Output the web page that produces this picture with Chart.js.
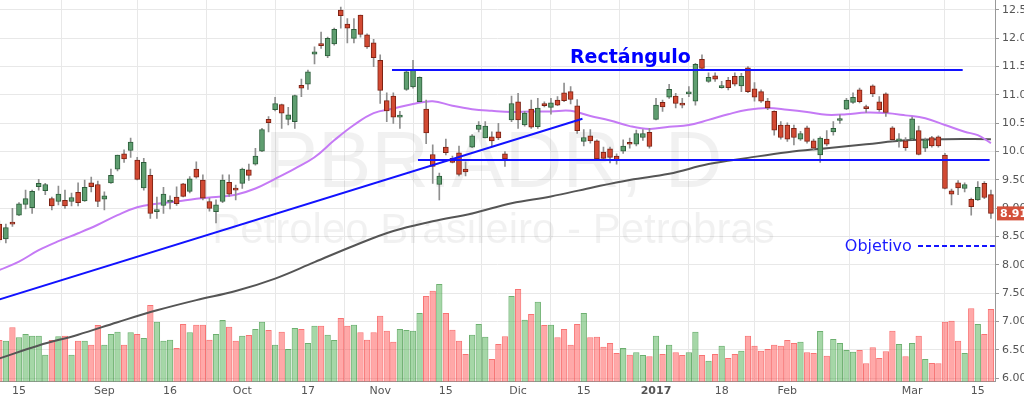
<!DOCTYPE html>
<html>
<head>
<meta charset="utf-8">
<style>
  html, body { margin: 0; padding: 0; background: #fff; }
</style>
<script src="https://cdn.jsdelivr.net/npm/chart.js@4.4.1/dist/chart.umd.min.js"></script>
</head>
<body>
<canvas id="chart" width="1024" height="397"></canvas>
<script>
// PBR.ADR daily candles, one entry per trading day (index 0 = Aug 10 2016, 151 = Mar 17 2017)
const open = [
  8.72, 8.46, 8.75, 8.88, 9.07, 9.01, 9.38, 9.31, 9.17, 9.12,
  9.14, 9.12, 9.28, 9.13, 9.45, 9.42, 9.16, 9.45, 9.69, 9.96,
  10.02, 9.85, 9.36, 9.58, 8.94, 9.05, 9.11, 9.20, 9.43, 9.30,
  9.69, 9.50, 9.12, 8.94, 9.12, 9.46, 9.34, 9.44, 9.68, 9.78,
  10.01, 10.57, 10.74, 10.83, 10.57, 10.53, 11.17, 11.19, 11.72, 11.89,
  11.69, 11.90, 12.50, 12.25, 12.00, 12.41, 12.06, 11.92, 11.61, 10.90,
  10.98, 10.61, 11.10, 11.14, 10.88, 10.75, 9.95, 9.42, 10.08, 9.88,
  9.98, 9.69, 10.08, 10.39, 10.24, 10.26, 10.35, 9.96, 10.56, 10.88,
  10.47, 10.75, 10.44, 10.85, 10.78, 10.91, 11.04, 11.06, 10.81, 10.18,
  10.28, 10.19, 9.99, 10.05, 9.92, 10.01, 10.16, 10.13, 10.25, 10.34,
  10.57, 10.87, 10.96, 10.98, 10.84, 11.02, 10.89, 11.63, 11.24, 11.34,
  11.13, 11.26, 11.33, 11.16, 11.48, 11.11, 11.06, 10.89, 10.71, 10.47,
  10.47, 10.41, 10.22, 10.42, 10.19, 9.94, 10.22, 10.35, 10.55, 10.75,
  10.87, 11.09, 10.79, 11.16, 10.88, 11.02, 10.42, 10.19, 10.19, 10.22,
  10.37, 10.06, 10.25, 10.26, 9.94, 9.31, 9.45, 9.35, 9.16, 9.15,
  9.44, 9.24
];
const high = [
  8.78, 8.72, 9.00, 9.10, 9.32, 9.32, 9.51, 9.44, 9.20, 9.39,
  9.32, 9.27, 9.45, 9.50, 9.55, 9.48, 9.29, 9.69, 9.94, 10.03,
  10.24, 9.90, 9.88, 9.69, 9.20, 9.37, 9.22, 9.38, 9.44, 9.56,
  9.82, 9.59, 9.18, 9.15, 9.59, 9.59, 9.41, 9.71, 9.78, 10.06,
  10.41, 10.62, 10.96, 10.84, 10.78, 11.00, 11.28, 11.44, 11.85, 12.11,
  12.02, 12.18, 12.55, 12.35, 12.35, 12.41, 12.08, 11.98, 11.71, 11.04,
  11.04, 10.71, 11.45, 11.61, 11.32, 10.91, 10.12, 9.62, 10.22, 9.92,
  10.10, 9.82, 10.30, 10.53, 10.53, 10.35, 10.50, 10.00, 10.98, 11.03,
  10.71, 10.91, 10.94, 10.88, 10.94, 10.97, 11.21, 11.15, 10.92, 10.39,
  10.39, 10.21, 10.08, 10.08, 9.96, 10.21, 10.24, 10.38, 10.39, 10.41,
  10.94, 10.91, 11.19, 11.03, 10.94, 11.15, 11.56, 11.71, 11.39, 11.39,
  11.24, 11.31, 11.39, 11.38, 11.50, 11.22, 11.09, 10.94, 10.72, 10.53,
  10.51, 10.47, 10.36, 10.45, 10.22, 10.26, 10.37, 10.53, 10.65, 10.94,
  11.04, 11.12, 10.82, 11.18, 10.97, 11.04, 10.44, 10.32, 10.25, 10.61,
  10.45, 10.24, 10.27, 10.28, 9.97, 9.34, 9.49, 9.45, 9.18, 9.47,
  9.47, 9.32
];
const low = [
  8.40, 8.39, 8.68, 8.87, 8.99, 8.91, 9.32, 9.24, 8.97, 9.06,
  9.00, 9.04, 9.04, 9.12, 9.29, 9.03, 8.97, 9.44, 9.66, 9.81,
  9.90, 9.50, 9.32, 8.82, 8.82, 8.91, 8.99, 9.05, 9.20, 9.27,
  9.53, 9.15, 8.95, 8.74, 9.10, 9.21, 9.15, 9.35, 9.49, 9.76,
  10.00, 10.35, 10.72, 10.41, 10.47, 10.41, 10.97, 11.10, 11.55, 11.82,
  11.66, 11.88, 12.18, 11.92, 11.92, 12.02, 11.82, 11.50, 10.85, 10.53,
  10.50, 10.41, 11.08, 11.12, 10.88, 10.14, 9.44, 9.15, 9.94, 9.80,
  9.57, 9.57, 10.07, 10.35, 10.24, 10.10, 10.21, 9.74, 10.53, 10.41,
  10.45, 10.41, 10.41, 10.79, 10.66, 10.81, 10.88, 10.84, 10.32, 10.10,
  10.15, 9.84, 9.85, 9.80, 9.78, 9.97, 10.06, 10.10, 10.20, 10.06,
  10.56, 10.71, 10.94, 10.77, 10.77, 10.97, 10.82, 11.45, 11.22, 11.24,
  11.12, 11.09, 11.16, 11.06, 11.04, 10.89, 10.87, 10.74, 10.29, 10.22,
  10.18, 10.12, 10.20, 10.15, 10.03, 9.81, 10.10, 10.29, 10.50, 10.74,
  10.85, 10.86, 10.69, 10.97, 10.71, 10.62, 10.19, 10.08, 10.02, 10.21,
  9.94, 10.00, 10.08, 10.08, 9.34, 9.06, 9.24, 9.29, 8.88, 9.14,
  9.17, 8.82
];
const close = [
  8.44, 8.66, 8.72, 9.08, 9.17, 9.30, 9.44, 9.42, 9.04, 9.25,
  9.04, 9.19, 9.10, 9.37, 9.38, 9.12, 9.22, 9.58, 9.94, 9.87,
  10.17, 9.51, 9.81, 8.91, 8.95, 9.25, 9.12, 9.08, 9.21, 9.52,
  9.55, 9.18, 9.00, 9.06, 9.50, 9.25, 9.32, 9.69, 9.58, 9.92,
  10.39, 10.51, 10.85, 10.68, 10.65, 10.99, 11.12, 11.41, 11.76, 11.87,
  12.00, 12.16, 12.40, 12.18, 12.16, 12.07, 11.85, 11.66, 11.08, 10.72,
  10.61, 10.63, 11.41, 11.44, 11.31, 10.33, 9.74, 9.57, 9.98, 9.81,
  9.60, 9.64, 10.28, 10.47, 10.45, 10.19, 10.24, 9.87, 10.85, 10.56,
  10.68, 10.43, 10.77, 10.81, 10.86, 10.82, 10.90, 10.92, 10.37, 10.25,
  10.19, 9.87, 9.88, 9.90, 9.86, 10.10, 10.13, 10.32, 10.32, 10.09,
  10.82, 10.79, 11.10, 10.85, 10.82, 11.03, 11.54, 11.47, 11.31, 11.28,
  11.16, 11.13, 11.19, 11.33, 11.06, 10.96, 10.89, 10.77, 10.38, 10.25,
  10.22, 10.25, 10.32, 10.18, 10.06, 10.24, 10.13, 10.41, 10.56, 10.91,
  10.96, 10.88, 10.76, 11.02, 10.74, 10.69, 10.21, 10.22, 10.07, 10.58,
  9.95, 10.21, 10.10, 10.10, 9.35, 9.25, 9.36, 9.42, 9.03, 9.37,
  9.19, 8.91
];
// volume, millions of shares
const volume = [
  20.8, 20.5, 27.2, 22.2, 23.8, 23.0, 23.0, 13.5, 20.8, 22.7,
  23.0, 13.5, 20.5, 20.5, 18.5, 28.3, 18.5, 23.8, 25.0, 18.5,
  24.7, 23.8, 21.8, 38.3, 30.0, 20.5, 21.0, 16.8, 28.8, 24.7,
  28.5, 28.5, 21.0, 23.8, 30.8, 27.5, 20.5, 23.0, 23.3, 26.3,
  30.0, 25.8, 18.5, 25.0, 16.3, 26.8, 26.3, 19.3, 28.0, 28.0,
  23.5, 20.8, 31.8, 28.0, 28.5, 24.7, 21.0, 24.7, 33.0, 25.5,
  20.0, 26.3, 25.8, 25.5, 34.3, 42.8, 45.5, 48.8, 34.3, 26.0,
  20.5, 13.8, 23.5, 28.8, 22.5, 11.3, 18.8, 22.7, 42.8, 46.3,
  31.0, 33.8, 40.0, 28.3, 28.5, 22.2, 26.3, 18.5, 28.8, 34.3,
  22.2, 22.5, 17.5, 19.3, 14.3, 16.8, 13.5, 14.7, 13.3, 12.7,
  23.0, 13.8, 18.5, 14.7, 13.3, 14.7, 25.0, 13.3, 10.5, 13.8,
  18.0, 11.8, 13.8, 15.5, 23.0, 18.0, 15.5, 16.3, 18.5, 18.0,
  20.8, 19.3, 20.0, 14.7, 14.3, 25.3, 13.0, 21.3, 19.3, 15.8,
  15.0, 15.8, 9.2, 17.2, 11.8, 15.2, 25.5, 18.8, 12.7, 19.3,
  23.0, 11.3, 9.3, 9.2, 30.0, 30.5, 20.5, 14.3, 36.7, 28.8,
  23.8, 36.3
];

// moving averages: [day index, price]
const maFast = [
  [0, 7.91], [3, 8.06], [6, 8.26], [9, 8.42], [12, 8.56], [15, 8.71], [18, 8.88],
  [21, 9.02], [24, 9.08], [27, 9.12], [30, 9.17], [33, 9.20], [36, 9.24], [39, 9.35],
  [42, 9.52], [45, 9.70], [48, 9.90], [51, 10.20], [54, 10.47], [57, 10.68], [60, 10.76],
  [63, 10.84], [66, 10.89], [69, 10.81], [72, 10.75], [75, 10.72], [78, 10.70], [81, 10.71],
  [84, 10.71], [87, 10.72], [90, 10.63], [93, 10.55], [96, 10.45], [99, 10.40], [102, 10.44],
  [105, 10.47], [108, 10.56], [111, 10.66], [114, 10.74], [117, 10.77], [120, 10.74],
  [123, 10.70], [126, 10.65], [129, 10.66], [132, 10.69], [135, 10.68], [138, 10.64],
  [141, 10.59], [144, 10.47], [147, 10.35], [149, 10.29], [151, 10.15]
];
const maSlow = [
  [0, 6.35], [6, 6.58], [12, 6.77], [18, 6.99], [24, 7.20], [30, 7.38], [36, 7.54],
  [42, 7.76], [48, 8.05], [54, 8.34], [60, 8.60], [66, 8.77], [72, 8.91], [78, 9.09],
  [84, 9.21], [90, 9.36], [96, 9.50], [102, 9.61], [108, 9.78], [114, 9.89], [120, 9.99],
  [126, 10.06], [132, 10.13], [138, 10.20], [144, 10.22], [151, 10.22]
];

// drawn annotations
const trendLine = [[0, 7.39], [88.8, 10.58]];
const rectTop = [[59.8, 11.44], [146.7, 11.44]];
const rectBottom = [[63.75, 9.853], [150.8, 9.853]];
const targetLine = [[139.9, 8.335], [151.6, 8.335]];
const rectLabel = { text: "Rectángulo", x: 96.1, y: 11.565 };
const targetLabel = { text: "Objetivo", x: 138.96, y: 8.247 };
const watermark = ["PBR.ADR, D", "Petroleo Brasileiro - Petrobras"];

const xTickIdx = [3, 16, 26, 37, 47, 58, 68, 79, 89, 100, 110, 120, 139, 149];
const xTickText = ["15", "Sep", "16", "Oct", "17", "Nov", "15", "Dic", "15", "2017", "18", "Feb", "Mar", "15"];
const priceTicks = [6.0, 6.5, 7.0, 7.5, 8.0, 8.5, 9.0, 9.5, 10.0, 10.5, 11.0, 11.5, 12.0, 12.5];

const BLUE = "#1212ff";
const isUp = i => close[i] >= open[i];
const pts = arr => arr.map(p => ({ x: p[0], y: p[1] }));

function lineSet(data, color, width, order, extra) {
  return Object.assign({
    type: "line", data: pts(data), borderColor: color, borderWidth: width,
    pointRadius: 0, fill: false, order: order, yAxisID: "y"
  }, extra || {});
}

const overlay = {
  id: "overlay",
  beforeDatasetsDraw(chart) {
    const { ctx, chartArea: a } = chart;
    const cx = (a.left + a.right) / 2 - 4;
    ctx.save();
    ctx.fillStyle = "rgba(0,0,0,0.055)";
    ctx.textAlign = "center";
    ctx.textBaseline = "alphabetic";
    ctx.font = '80px "Liberation Sans"';
    ctx.fillText(watermark[0], cx, a.top + 187);
    ctx.font = '42px "Liberation Sans"';
    ctx.fillText(watermark[1], cx, a.top + 243);
    ctx.restore();
  },
  afterDatasetsDraw(chart) {
    const { ctx } = chart;
    const xs = chart.scales.x, ys = chart.scales.y;
    ctx.save();
    ctx.textBaseline = "alphabetic";
    ctx.fillStyle = "#0000ff";
    ctx.textAlign = "center";
    ctx.font = 'bold 19px "DejaVu Sans"';
    ctx.fillText(rectLabel.text, xs.getPixelForValue(rectLabel.x), ys.getPixelForValue(rectLabel.y));
    ctx.fillStyle = "#1a1aff";
    ctx.textAlign = "right";
    ctx.font = '16px "DejaVu Sans"';
    ctx.fillText(targetLabel.text, xs.getPixelForValue(targetLabel.x), ys.getPixelForValue(targetLabel.y));
    ctx.restore();
  },
  afterDraw(chart) {
    const { ctx, chartArea: a } = chart;
    const last = close[close.length - 1];
    const y = chart.scales.y.getPixelForValue(last);
    ctx.save();
    ctx.fillStyle = "#d4503a";
    ctx.fillRect(a.right + 2, y - 7, chart.width - a.right - 2, 14);
    ctx.fillStyle = "#fff";
    ctx.font = 'bold 11px "DejaVu Sans"';
    ctx.textAlign = "left";
    ctx.textBaseline = "middle";
    ctx.fillText(last.toFixed(2), a.right + 5, y + 0.5);
    ctx.restore();
  }
};

new Chart(document.getElementById("chart"), {
  type: "bar",
  data: {
    datasets: [
      lineSet(trendLine, BLUE, 2, 1),
      lineSet(rectTop, BLUE, 2, 1),
      lineSet(rectBottom, BLUE, 2, 1),
      lineSet(targetLine, BLUE, 2, 1, { borderDash: [5, 3] }),
      {
        label: "body",
        data: open.map((o, i) => ({ x: i, y: [o, close[i]] })),
        backgroundColor: c => isUp(c.dataIndex) ? "#5f9e70" : "#d24a33",
        borderColor: c => isUp(c.dataIndex) ? "#2d5e3b" : "#7c2214",
        borderWidth: 1,
        borderSkipped: false,
        barThickness: 5,
        minBarLength: 2,
        grouped: false,
        order: 3,
        yAxisID: "y"
      },
      {
        label: "wick",
        data: high.map((h, i) => ({ x: i, y: [low[i], h] })),
        backgroundColor: "#8f8f8f",
        barThickness: 1,
        grouped: false,
        order: 4,
        yAxisID: "y"
      },
      lineSet(maFast, "#c57af5", 2, 5, { tension: 0.4 }),
      lineSet(maSlow, "#555555", 2, 6, { tension: 0.4 }),
      {
        label: "volume",
        data: volume.map((v, i) => ({ x: i, y: v })),
        backgroundColor: c => isUp(c.dataIndex) ? "rgba(76,175,80,0.5)" : "rgba(255,82,82,0.5)",
        borderColor: c => isUp(c.dataIndex) ? "rgba(60,150,64,0.75)" : "rgba(245,70,70,0.75)",
        borderWidth: 1,
        barPercentage: 0.96,
        categoryPercentage: 1,
        grouped: false,
        order: 10,
        yAxisID: "yv"
      }
    ]
  },
  options: {
    responsive: false,
    animation: false,
    devicePixelRatio: 1,
    layout: { padding: 0 },
    plugins: { legend: { display: false }, tooltip: { enabled: false } },
    scales: {
      x: {
        type: "linear",
        position: "bottom",
        min: 0.107,
        max: 151.62,
        offset: false,
        afterBuildTicks: s => { s.ticks = xTickIdx.map(v => ({ value: v })); },
        afterFit: s => { s.height = 15.3; s.paddingLeft = 0; s.paddingRight = 0; },
        ticks: {
          autoSkip: false,
          maxRotation: 0,
          padding: 3,
          color: "#555",
          font: c => ({ family: "DejaVu Sans", size: 11, weight: c.tick && c.tick.value === 100 ? "bold" : "normal" }),
          callback: v => xTickText[xTickIdx.indexOf(v)]
        },
        grid: { color: "#e8e8e8", drawTicks: false },
        border: { color: "#999" }
      },
      y: {
        type: "linear",
        position: "right",
        min: 5.94,
        max: 12.676,
        afterBuildTicks: s => { s.ticks = priceTicks.map(v => ({ value: v })); },
        afterFit: s => { s.width = 29; s.paddingTop = 0; s.paddingBottom = 0; },
        ticks: {
          color: "#555",
          padding: 3,
          font: { family: "DejaVu Sans", size: 11 },
          callback: v => v.toFixed(2)
        },
        grid: { color: "#e8e8e8", tickLength: 4, tickColor: "#999" },
        border: { color: "#999" }
      },
      yv: { type: "linear", display: false, min: 0, max: 190.85 }
    }
  },
  plugins: [overlay]
});
</script>
</body>
</html>
